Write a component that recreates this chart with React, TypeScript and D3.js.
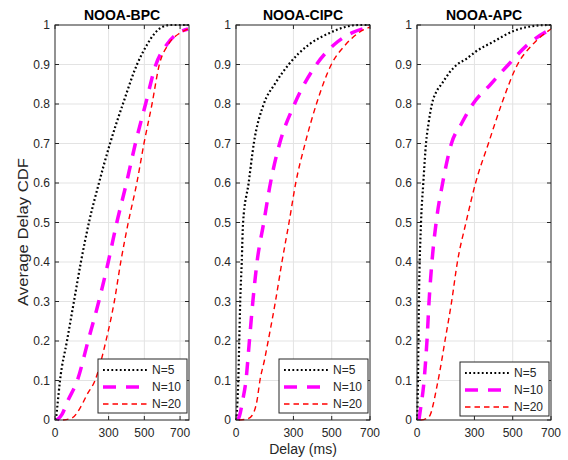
import React from 'react';
import * as d3 from 'd3';

// [delay (ms), cdf] pairs
const bpcN5 = [[5, 0], [12, 0.03], [28, 0.1], [67, 0.2], [106, 0.3], [145, 0.4], [190, 0.5], [246, 0.6], [308, 0.7], [380, 0.8], [459, 0.9], [515, 0.95], [560, 0.98], [600, 0.995], [645, 1], [750, 1]];
const bpcN10 = [[12, 0], [40, 0.015], [73, 0.05], [125, 0.1], [185, 0.2], [245, 0.3], [298, 0.4], [346, 0.5], [400, 0.6], [450, 0.7], [507, 0.8], [565, 0.9], [625, 0.95], [690, 0.98], [745, 0.99]];
const bpcN20 = [[45, 0], [95, 0.005], [140, 0.03], [180, 0.065], [224, 0.1], [285, 0.2], [332, 0.3], [368, 0.4], [410, 0.5], [458, 0.6], [498, 0.7], [543, 0.8], [584, 0.9], [633, 0.95], [700, 0.98], [745, 0.99]];

const cipcN5 = [[1, 0], [8, 0.05], [12, 0.1], [17, 0.2], [22, 0.3], [30, 0.4], [37, 0.5], [66, 0.6], [93, 0.7], [145, 0.8], [202, 0.85], [275, 0.9], [380, 0.95], [490, 0.98], [570, 0.995], [640, 1], [700, 1]];
const cipcN10 = [[10, 0], [18, 0.01], [35, 0.05], [52, 0.1], [70, 0.2], [88, 0.3], [110, 0.4], [145, 0.5], [180, 0.6], [228, 0.7], [306, 0.8], [420, 0.9], [512, 0.95], [605, 0.98], [700, 0.995]];
const cipcN20 = [[15, 0], [60, 0.003], [85, 0.012], [110, 0.05], [125, 0.1], [148, 0.15], [168, 0.2], [206, 0.3], [240, 0.4], [277, 0.5], [312, 0.6], [361, 0.7], [420, 0.8], [498, 0.9], [572, 0.95], [640, 0.98], [700, 0.995]];

const apcN5 = [[1, 0], [5, 0.1], [10, 0.3], [21, 0.5], [33, 0.6], [47, 0.7], [60, 0.75], [78, 0.8], [100, 0.83], [128, 0.85], [170, 0.88], [210, 0.9], [260, 0.915], [305, 0.932], [400, 0.958], [505, 0.985], [600, 0.997], [684, 1], [700, 1]];
const apcN10 = [[10, 0], [16, 0.02], [37, 0.1], [52, 0.2], [63, 0.3], [78, 0.4], [100, 0.5], [134, 0.6], [180, 0.7], [232, 0.75], [292, 0.8], [385, 0.85], [478, 0.9], [577, 0.95], [700, 0.99]];
const apcN20 = [[20, 0], [45, 0.003], [68, 0.012], [85, 0.04], [104, 0.085], [118, 0.12], [146, 0.2], [181, 0.3], [211, 0.4], [256, 0.5], [306, 0.6], [373, 0.7], [442, 0.8], [525, 0.9], [603, 0.95], [700, 0.99]];

const panelTitles = ['NOOA-BPC', 'NOOA-CIPC', 'NOOA-APC'];
const panelMaxDelay = [750, 700, 700];
const panelData = [
  [bpcN5, bpcN10, bpcN20],
  [cipcN5, cipcN10, cipcN20],
  [apcN5, apcN10, apcN20],
];
const seriesNames = ['N=5', 'N=10', 'N=20'];
const xTicks = [0, 300, 500, 700];
const yTicks = [0, 0.1, 0.2, 0.3, 0.4, 0.5, 0.6, 0.7, 0.8, 0.9, 1];

const seriesStyle = [
  { stroke: '#000000', width: 2.2, dash: '1.8,2.4' },
  { stroke: '#ff00ff', width: 3.5, dash: '13,10' },
  { stroke: '#ff0000', width: 1.4, dash: '5.5,4' },
];

const FONT = '"Liberation Sans", Arial, Helvetica, sans-serif';
const AXIS = '#262626';
const GRID = '#e3e3e3';

const top = 25;
const bottom = 420;
const panelW = 134;
const panelLefts = [55, 236, 417];
const legendY = [359, 359, 362];
const tickLen = 4;

function Panel({ idx }: { idx: number }) {
  const left = panelLefts[idx];
  const x = d3.scaleLinear().domain([0, panelMaxDelay[idx]]).range([left, left + panelW]);
  const y = d3.scaleLinear().domain([0, 1]).range([bottom, top]);
  const line = d3
    .line<number[]>()
    .x((d) => x(d[0]))
    .y((d) => y(d[1]))
    .curve(d3.curveMonotoneX);

  const lx = left + 43;
  const ly = legendY[idx];

  return (
    <g>
      {/* grid */}
      {yTicks.slice(1, -1).map((t) => (
        <line key={'gy' + t} x1={left} x2={left + panelW} y1={y(t)} y2={y(t)} stroke={GRID} strokeWidth={1} />
      ))}
      {xTicks.slice(1).filter((t) => x(t) < left + panelW - 1).map((t) => (
        <line key={'gx' + t} x1={x(t)} x2={x(t)} y1={top} y2={bottom} stroke={GRID} strokeWidth={1} />
      ))}

      {/* curves */}
      {panelData[idx].map((s, i) => (
        <path
          key={'s' + i}
          d={line(s) || ''}
          fill="none"
          stroke={seriesStyle[i].stroke}
          strokeWidth={seriesStyle[i].width}
          strokeDasharray={seriesStyle[i].dash}
        />
      ))}

      {/* box */}
      <rect x={left} y={top} width={panelW} height={bottom - top} fill="none" stroke={AXIS} strokeWidth={1} />

      {/* ticks */}
      {yTicks.map((t) => (
        <g key={'ty' + t}>
          <line x1={left} x2={left + tickLen} y1={y(t)} y2={y(t)} stroke={AXIS} />
          <line x1={left + panelW - tickLen} x2={left + panelW} y1={y(t)} y2={y(t)} stroke={AXIS} />
          <text x={left - 5} y={y(t) + 4.3} textAnchor="end" fontSize={12} fill={AXIS} fontFamily={FONT}>
            {t === 0 ? '0' : t === 1 ? '1' : t.toFixed(1)}
          </text>
        </g>
      ))}
      {xTicks.map((t) => (
        <g key={'tx' + t}>
          <line x1={x(t)} x2={x(t)} y1={bottom} y2={bottom - tickLen} stroke={AXIS} />
          <line x1={x(t)} x2={x(t)} y1={top} y2={top + tickLen} stroke={AXIS} />
          <text x={x(t)} y={437} textAnchor="middle" fontSize={12} fill={AXIS} fontFamily={FONT}>
            {t}
          </text>
        </g>
      ))}

      {/* title */}
      <text x={left + panelW / 2} y={19.5} textAnchor="middle" fontSize={14} fontWeight="bold" fill="#000" fontFamily={FONT}>
        {panelTitles[idx]}
      </text>

      {/* legend */}
      <rect x={lx} y={ly} width={89} height={54} fill="#fff" stroke={AXIS} strokeWidth={1} />
      {seriesNames.map((n, i) => (
        <g key={'l' + i}>
          <line
            x1={lx + 5}
            x2={lx + 50}
            y1={ly + 11 + i * 17}
            y2={ly + 11 + i * 17}
            stroke={seriesStyle[i].stroke}
            strokeWidth={seriesStyle[i].width}
            strokeDasharray={seriesStyle[i].dash}
          />
          <text x={lx + 54} y={ly + 15.3 + i * 17} fontSize={12} fill={AXIS} fontFamily={FONT}>
            {n}
          </text>
        </g>
      ))}
    </g>
  );
}

export default function App() {
  return (
    <svg
      width={568}
      height={460}
      style={{ position: 'absolute', left: 0, top: 0, background: '#fff' }}
    >
      <rect width={568} height={460} fill="#fff" />
      {[0, 1, 2].map((i) => (
        <Panel key={i} idx={i} />
      ))}
      <text
        transform="translate(28,232) rotate(-90)"
        textAnchor="middle"
        fontSize={14}
        fill={AXIS}
        fontFamily={FONT}
        textLength={148}
        lengthAdjust="spacingAndGlyphs"
      >
        Average Delay CDF
      </text>
      <text x={303} y={454} textAnchor="middle" fontSize={14} fill={AXIS} fontFamily={FONT}>
        Delay (ms)
      </text>
    </svg>
  );
}
